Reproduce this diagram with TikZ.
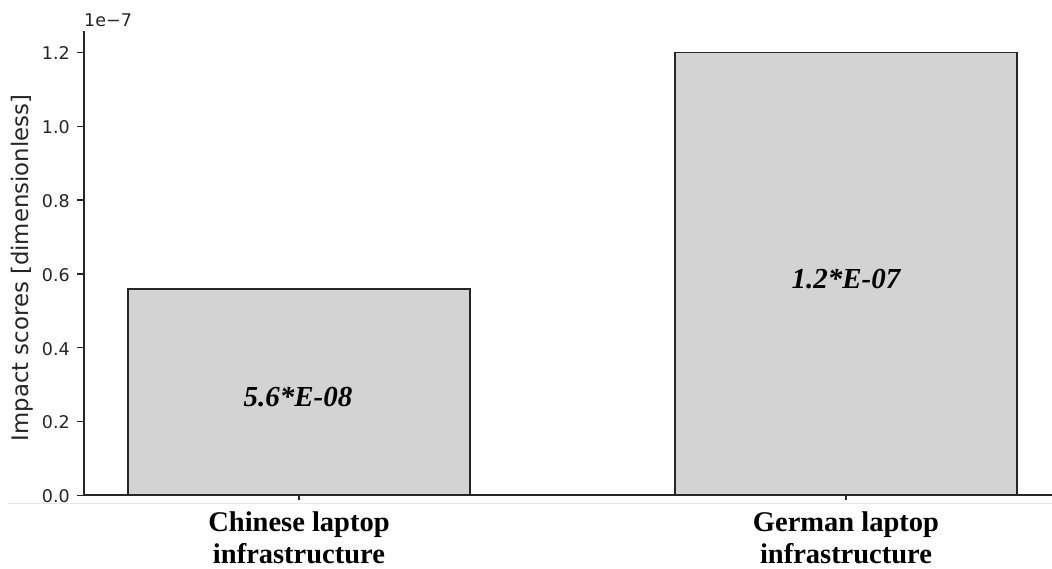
\documentclass[tikz,border=0pt]{standalone}
\usepackage{fontspec}
\usetikzlibrary{calc}
\setmainfont{Liberation Serif}
\newfontfamily\plotsans{DejaVu Sans}
\definecolor{barfill}{HTML}{D3D3D3}
\definecolor{spine}{HTML}{262626}
\definecolor{faint}{HTML}{E8E8E8}
\begin{document}
\begin{tikzpicture}[x=1pt,y=-1pt,
  bar/.style={draw=spine,fill=barfill,line width=1.6pt},
  spineline/.style={draw=spine,line width=1.8pt},
  tickline/.style={draw=spine,line width=1.3pt},
  ticklabel/.style={font=\plotsans\fontsize{17.5}{19}\selectfont,text=spine,anchor=east,inner sep=0pt},
  valuelabel/.style={font=\fontsize{29}{33}\selectfont\bfseries\itshape,inner sep=0pt},
  catlabel/.style={font=\fontsize{28.5}{32}\selectfont\bfseries,align=center,inner sep=0pt}]
\useasboundingbox (0,0) rectangle (1052,568);
\fill[white] (0,0) rectangle (1052,568);
% faint separator under the axis
\draw[faint,line width=1pt] (8,503.5) -- (1052,503.5);
% bars
\draw[bar] (128,495) rectangle (470,288.7);
\draw[bar] (675,495) rectangle (1017,52.5);
% spines
\coordinate (ytop) at (84,31);
\coordinate (origin) at (84,495);
\coordinate (xend) at (1052,495);
\draw[spineline] (ytop) -- (origin) -- (xend);
% y ticks and labels
\foreach \v/\lab in {0/0.0,1/0.2,2/0.4,3/0.6,4/0.8,5/1.0,6/1.2}{
  \coordinate (yt\v) at (84,495.3-73.8*\v);
  \draw[tickline] (yt\v) -- ++(-7,0);
  \node[ticklabel] (yl\v) at ($(yt\v)+(-14,1)$) {\lab};
}
% x ticks
\coordinate (xt1) at (299,495);
\coordinate (xt2) at (846,495);
\draw[tickline] (xt1) -- ++(0,5);
\draw[tickline] (xt2) -- ++(0,5);
% offset text and axis title
\node[font=\plotsans\fontsize{17.5}{19}\selectfont,text=spine,anchor=south west,inner sep=0pt] (offset) at (84,27) {1e\textminus 7};
\node[font=\plotsans\fontsize{22.8}{25}\selectfont,text=spine,rotate=90,inner sep=0pt] (ylabel) at (22,268) {Impact scores [dimensionless]};
% value labels
\node[valuelabel] (v1) at (298,397) {5.6*E-08};
\node[valuelabel] (v2) at (846,279) {1.2*E-07};
% category labels
\node[catlabel] (c1) at (299,538) {Chinese laptop\\infrastructure};
\node[catlabel] (c2) at (846,538) {German laptop\\infrastructure};
\end{tikzpicture}
\end{document}
